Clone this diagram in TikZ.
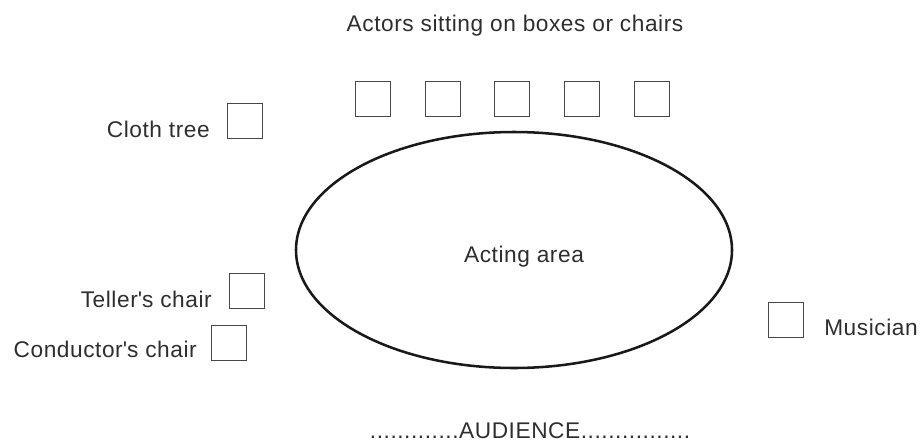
\documentclass[tikz,border=0pt]{standalone}
\usepackage{fontspec}
\setmainfont[LetterSpace=2.5]{Liberation Sans}
\usetikzlibrary{shapes.geometric}

\begin{document}
\begin{tikzpicture}[
        x=0.75pt, y=-0.75pt,
        font=\fontsize{17}{20}\selectfont,
        seat/.style={draw=black!72, line width=1.2pt, minimum size=26pt, inner sep=0pt},
        lbl/.style={text=black!82, inner sep=0pt},
        stage/.style={draw=black!90, line width=1.9pt, ellipse, minimum width=327pt, minimum height=177pt, inner sep=0pt}
    ]
        \useasboundingbox (0,0) rectangle (920,443);

        \node[lbl, anchor=base] (title) at (515,31) {Actors sitting on boxes or chairs};
        \foreach \i/\x in {1/373, 2/443, 3/512, 4/582, 5/652}
            \node[seat] (actor\i) at (\x,99) {};

        \node[seat] (cloth) at (245,121) {};
        \node[lbl, anchor=base east] (clothlbl) at (210,137) {Cloth tree};

        \node[stage] (area) at (514,250) {};
        \node[lbl, anchor=base] (arealbl) at (524,262) {Acting area};

        \node[seat] (teller) at (247,291) {};
        \node[lbl, anchor=base east] (tellerlbl) at (212,307) {Teller\textquotesingle s chair};
        \node[seat] (conductor) at (229,343) {};
        \node[lbl, anchor=base east] (conductorlbl) at (197,357) {Conductor\textquotesingle s chair};

        \node[seat] (musician) at (786,320) {};
        \node[lbl, anchor=base west] (musicianlbl) at (824,335) {Musician};

        \node[lbl, anchor=base] (audience) at (530,438) {.............AUDIENCE................};
    \end{tikzpicture}
\end{document}
